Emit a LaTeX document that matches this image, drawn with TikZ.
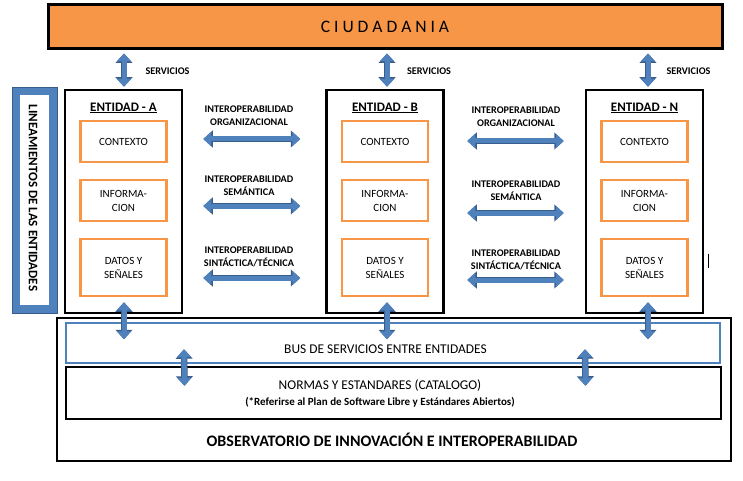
\documentclass[tikz,border=0pt]{standalone}
\usepackage{fontspec}
\setmainfont{Carlito}
\usetikzlibrary{arrows.meta}
\definecolor{orgfill}{HTML}{F79646}
\definecolor{arrblue}{HTML}{4F81BD}
\definecolor{arrline}{HTML}{385D8A}
\tikzset{
  bidir/.style={line width=5pt, draw=arrblue,
    {Triangle[width=14pt,length=8pt]}-{Triangle[width=14pt,length=8pt]},
    preaction={draw=arrline, line width=6.5pt,
      {Triangle[width=16.5pt,length=9.5pt]}-{Triangle[width=16.5pt,length=9.5pt]}}},
  entbox/.style={draw, line width=2.5pt, minimum width=117, minimum height=223},
  subbox/.style={draw=orgfill, line width=2.5pt, fill=white, minimum width=86,
    minimum height=41, align=center, font=\fontsize{11}{14}\selectfont},
  lbl/.style={align=center, font=\bfseries\fontsize{10.2}{13}\selectfont},
}
\begin{document}
\begin{tikzpicture}[x=1pt, y=-1pt, every node/.style={inner sep=1pt}]
\useasboundingbox (0,0) rectangle (743,481);
\node[draw, line width=3pt, fill=orgfill, minimum width=674, minimum height=44,
  font=\fontsize{17.5}{20}\selectfont] (ciud) at (385,27) {C I U D A D A N I A};
% lineamientos
\node[draw=arrline, fill=arrblue, line width=1pt, minimum width=45, minimum height=225] (linout) at (34.5,200.5) {};
\node[fill=white, minimum width=29, minimum height=210] (linin) at (34.5,200) {};
\node[rotate=-90, font=\bfseries\fontsize{13}{15}\selectfont] (lintxt) at (33,198) {LINEAMIENTOS DE LAS ENTIDADES};
% observatorio
\node[draw, line width=2pt, minimum width=674, minimum height=143] (obs) at (394,389.5) {};
\node[draw=arrblue, line width=2.5pt, minimum width=654, minimum height=40] (bus) at (393,343) {};
\node[draw, line width=2.5pt, minimum width=655, minimum height=52] (norm) at (393.5,393) {};
\node[font=\fontsize{13.4}{15}\selectfont] (bustxt) at (385.5,349) {BUS DE SERVICIOS ENTRE ENTIDADES};
\node[font=\fontsize{13.4}{15}\selectfont] (normtxt) at (380,386) {NORMAS Y ESTANDARES (CATALOGO)};
\node[font=\bfseries\fontsize{11}{13}\selectfont] (reftxt) at (380,402) {(*Referirse al Plan de Software Libre y Estándares Abiertos)};
\node[font=\bfseries\fontsize{16}{18}\selectfont] (obstxt) at (392,440) {OBSERVATORIO DE INNOVACIÓN E INTEROPERABILIDAD};
% entidades
\foreach \e/\x/\d in {A/123.5/0.5, B/385/2, N/644.5/3.5} {
  \node[entbox] (ent\e) at (\x,201.5) {};
  \node[font=\bfseries\fontsize{13}{15}\selectfont] (tit\e) at (\x,108) {\underline{ENTIDAD - \e}};
  \node[subbox] (ctx\e) at (\x,141.5) {CONTEXTO};
  \node[subbox] (inf\e) at (\x,200.5) {INFORMA-\\CION};
  \node[subbox, minimum height=57] (dat\e) at (\x,267.5) {DATOS Y\\SEÑALES};
  \draw[bidir] ([xshift=\d,yshift=-3]ciud.south -| ent\e.north) -- ([xshift=\d,yshift=2]ent\e.north);
  \node[lbl] (srv\e) at (\x+44,71) {SERVICIOS};
  \draw[bidir] ([xshift=\d,yshift=12]ent\e.south) -- ([xshift=\d,yshift=-25]ent\e.south);
}
\foreach \r/\da/\db in {ctx/2.5/0.5, inf/-5.5/-12.5, dat/-10.5/-12.5} {
  \draw[bidir] ([xshift=20,yshift=\da]entA.east |- \r A) -- ([xshift=-25,yshift=\da]entB.west |- \r A);
  \draw[bidir] ([xshift=22.5,yshift=\db]entB.east |- \r B) -- ([xshift=-21,yshift=\db]entN.west |- \r B);
}
\node[lbl] (orgab) at (249,115.5) {INTEROPERABILIDAD\\ORGANIZACIONAL};
\node[lbl] (semab) at (249,185.5) {INTEROPERABILIDAD\\SEMÁNTICA};
\node[lbl] (sinab) at (249,256.5) {INTEROPERABILIDAD\\SINTÁCTICA/TÉCNICA};
\node[lbl] (orgbn) at (516,117) {INTEROPERABILIDAD\\ORGANIZACIONAL};
\node[lbl] (sembn) at (516,190.5) {INTEROPERABILIDAD\\SEMÁNTICA};
\node[lbl] (sinbn) at (516,259.5) {INTEROPERABILIDAD\\SINTÁCTICA/TÉCNICA};
% bus - normas
\draw[bidir] ([xshift=-209,yshift=15]bus.south) -- ([xshift=-209,yshift=-20]norm.north);
\draw[bidir] ([xshift=192,yshift=15]bus.south) -- ([xshift=192,yshift=-20]norm.north);
\draw[line width=1.5pt] ([xshift=4,yshift=-52]entN.east) -- ++(0,14);
\end{tikzpicture}
\end{document}
